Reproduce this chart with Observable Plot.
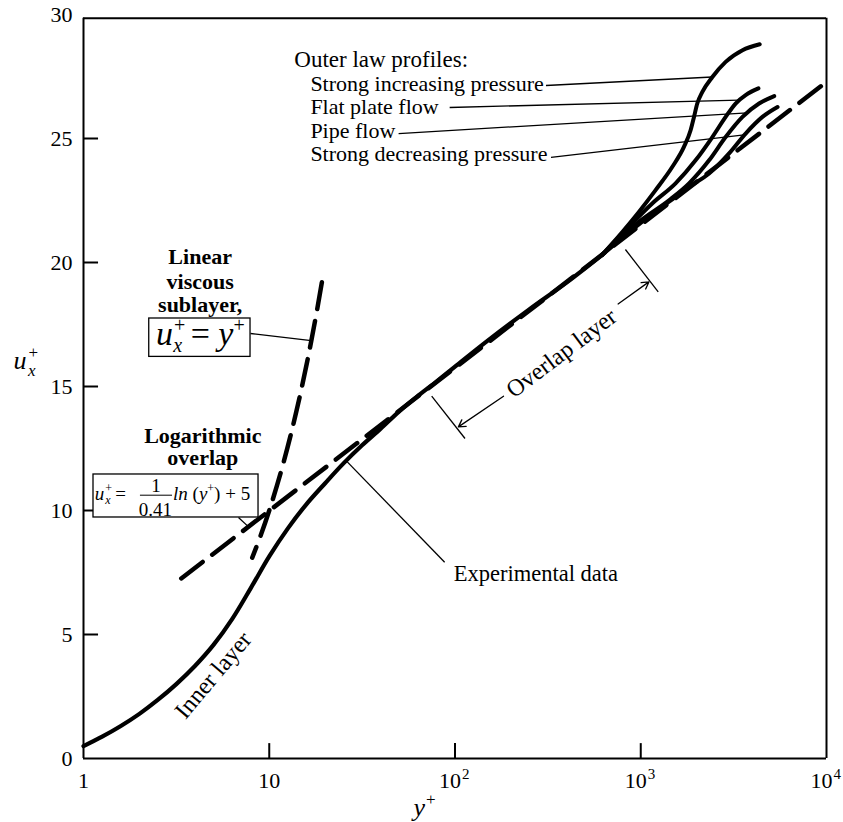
<!DOCTYPE html>
<html><head><meta charset="utf-8">
<script src="https://cdn.jsdelivr.net/npm/d3@7"></script>
<script src="https://cdn.jsdelivr.net/npm/@observablehq/plot@0.6"></script>
<style>
  body { margin: 0; background: #fff; }
  #chart svg { display: block; }
</style>
</head><body><div id="chart"></div>
<script>
// Turbulent wall-layer velocity profile, u+ against y+ (log scale)

// Experimental data (inner layer through overlap layer)
const expY = [1, 1.26, 1.58, 2.0, 2.51, 3.16, 3.98, 5.01, 6.31, 7.94, 10, 12.6, 15.8, 20, 25.1, 31.6, 39.8, 50.1, 63.1, 79.4, 100, 150, 250, 400, 618];
const expU = [0.5, 0.88, 1.3, 1.8, 2.36, 3.0, 3.73, 4.58, 5.62, 6.86, 8.15, 9.28, 10.24, 11.1, 11.9, 12.63, 13.3, 14.0, 14.62, 15.2, 15.8, 16.85, 18.1, 19.2, 20.3];

// Outer law profiles
const profileNames = ["Strong increasing pressure", "Flat plate flow", "Pipe flow", "Strong decreasing pressure"];
const incY = [618, 800, 977, 1202, 1477, 1708, 1855, 1935, 2015, 2146, 2430, 2865, 3530, 4370];
const incU = [20.3, 21.25, 22.04, 22.92, 23.85, 24.66, 25.33, 25.87, 26.41, 26.88, 27.48, 28.09, 28.56, 28.8];
const flatY = [618, 863, 1153, 1540, 1973, 2430, 2865, 3240, 3670, 4300];
const flatU = [20.3, 21.44, 22.38, 23.19, 24.12, 25.06, 25.87, 26.41, 26.75, 27.02];
const pipeY = [618, 1000, 1420, 1820, 2333, 2865, 3530, 4335, 5230];
const pipeU = [20.3, 21.7, 22.51, 23.19, 24.12, 25.06, 25.87, 26.41, 26.71];
const decY = [618, 1000, 1420, 1820, 2333, 2990, 3670, 4520, 5450];
const decU = [20.3, 21.6, 22.45, 23.05, 23.59, 24.4, 25.2, 25.87, 26.27];

// Linear viscous sublayer, u+ = y+
const viscY = [19.2, 18, 17, 16, 15, 14, 13, 12, 11, 10, 9, 8.1];
const viscU = [19.2, 18, 17, 16, 15, 14, 13, 12, 11, 10, 9, 8.1];

// Logarithmic overlap line
const logY = [3.36, 9840];
const logU = [7.26, 27.24];

// Axis ticks
const xTicks = [1, 10, 100, 1000, 10000];
const xTickBase = ["1", "10", "10", "10", "10"];
const xTickExp = ["", "", "2", "3", "4"];
const yTicks = [0, 5, 10, 15, 20, 25, 30];

const pts = (xs, us) => xs.map((x, i) => ({x, u: us[i]}));
const profiles = [pts(incY, incU), pts(flatY, flatU), pts(pipeY, pipeU), pts(decY, decU)];

// Annotation placement, in data units
const profileLabelAt = {x: 16.65, u: [26.927, 25.98, 25.03, 24.085]};
const profileLeaders = [
  {x1: 308.8, y1: 27.137, x2: 2430, y2: 27.48},
  {x1: 93.6, y1: 26.25, x2: 3384, y2: 26.55},
  {x1: 49.7, y1: 25.2, x2: 3752, y2: 26.03},
  {x1: 328.6, y1: 24.238, x2: 3601, y2: 25.15}
];
const otherLeaders = [
  {x1: 7.928, y1: 17.137, x2: 16.85, y2: 16.85},   // viscous formula box
  {x1: 6.83, y1: 9.718, x2: 7.77, y2: 9.33},       // log formula box
  {x1: 26, y1: 12.0, x2: 87.98, y2: 7.915}         // experimental data
];
const overlapBars = [
  {x1: 74.9, y1: 14.609, x2: 113.2, y2: 12.903},
  {x1: 826.8, y1: 20.524, x2: 1241.6, y2: 18.815}
];
const overlapArrows = [
  {x1: 182.5, y1: 14.609, x2: 104.3, y2: 13.371},
  {x1: 755.1, y1: 18.327, x2: 1106, y2: 19.218}
];
const boxes = [
  {x1: 2.259, x2: 7.928, y1: 16.194, y2: 17.742},
  {x1: 1.132, x2: 8.755, y1: 9.718, y2: 11.452}
];
const boldLabels = [
  {t: "Linear", x: 4.246, u: 19.92},
  {t: "viscous", x: 4.246, u: 18.95},
  {t: "sublayer,", x: 4.246, u: 18.01},
  {t: "Logarithmic", x: 4.388, u: 12.734},
  {t: "overlap", x: 4.388, u: 11.847}
];

const serif = "'Liberation Serif', 'Times New Roman', Times, serif";
const innerX = xTicks.slice(1, -1);
const innerY = yTicks.slice(1, -1);
const plainIdx = xTicks.map((d, i) => i).filter(i => !xTickExp[i]);
const expIdx = xTicks.map((d, i) => i).filter(i => xTickExp[i]);

const chart = Plot.plot({
  width: 843,
  height: 822,
  marginLeft: 83,
  marginRight: 17,
  marginTop: 14,
  marginBottom: 64,
  style: {fontFamily: serif, fontSize: "22px", background: "white", color: "black"},
  x: {type: "log", domain: [1, 10000], axis: null},
  y: {domain: [0, 30], axis: null},
  marks: [
    // frame and inward ticks
    Plot.ruleY([0, 29.85], {stroke: "black", strokeWidth: 2}),
    Plot.ruleX([1, 10000], {y1: 0, y2: 29.85, stroke: "black", strokeWidth: 2}),
    Plot.ruleX(innerX, {y1: 0, y2: 0.6, stroke: "black", strokeWidth: 2}),
    Plot.ruleY(innerY, {x1: 1, x2: 1.205, stroke: "black", strokeWidth: 2}),
    Plot.axisY({ticks: yTicks, tickSize: 0, tickPadding: 11, fontSize: 22, label: null, tickFormat: d => String(d)}),
    Plot.text(plainIdx, {x: i => xTicks[i], y: 0, text: i => xTickBase[i], dy: 29, lineAnchor: "bottom", fontSize: 22}),
    Plot.text(expIdx, {x: i => xTicks[i], y: 0, text: i => xTickBase[i], dx: -5, dy: 29, lineAnchor: "bottom", fontSize: 22}),
    Plot.text(expIdx, {x: i => xTicks[i], y: 0, text: i => xTickExp[i], dx: 7, dy: 20, textAnchor: "start", lineAnchor: "bottom", fontSize: 15}),
    // axis titles (rewritten with sub/superscripts below)
    Plot.text(["u_x^+"], {frameAnchor: "left", dx: -70, dy: -18, textAnchor: "start", lineAnchor: "bottom", fontSize: 26}),
    Plot.text(["y^+"], {frameAnchor: "bottom", dx: -41.5, dy: 57, textAnchor: "start", lineAnchor: "bottom", fontSize: 26}),

    // curves
    Plot.line(pts(logY, logU), {x: "x", y: "u", stroke: "black", strokeWidth: 4.5, strokeDasharray: "27,12"}),
    Plot.line(pts(viscY, viscU), {x: "x", y: "u", stroke: "black", strokeWidth: 4.5, strokeDasharray: "27,12", curve: "monotone-x"}),
    ...profiles.map(p => Plot.line(p, {x: "x", y: "u", stroke: "black", strokeWidth: 4, curve: "monotone-x", strokeLinecap: "round"})),
    Plot.line(pts(expY, expU), {x: "x", y: "u", stroke: "black", strokeWidth: 4.2, curve: "catmull-rom", strokeLinecap: "round"}),

    // leaders, arrows, boxes
    Plot.link(profileLeaders, {x1: "x1", y1: "y1", x2: "x2", y2: "y2", stroke: "black", strokeWidth: 1.3}),
    Plot.link(otherLeaders, {x1: "x1", y1: "y1", x2: "x2", y2: "y2", stroke: "black", strokeWidth: 1.3}),
    Plot.link(overlapBars, {x1: "x1", y1: "y1", x2: "x2", y2: "y2", stroke: "black", strokeWidth: 1.3}),
    Plot.arrow(overlapArrows, {x1: "x1", y1: "y1", x2: "x2", y2: "y2", stroke: "black", strokeWidth: 1.3, headLength: 9}),
    Plot.rect(boxes, {x1: "x1", x2: "x2", y1: "y1", y2: "y2", fill: "white", stroke: "black", strokeWidth: 1.3}),

    // labels
    Plot.text(["Outer law profiles:"], {x: 13.64, y: 27.875, textAnchor: "start", lineAnchor: "bottom", fontSize: 23}),
    Plot.text(profileNames, {x: profileLabelAt.x, y: (d, i) => profileLabelAt.u[i], textAnchor: "start", lineAnchor: "bottom", fontSize: 22}),
    Plot.text(boldLabels, {x: "x", y: "u", text: "t", lineAnchor: "bottom", fontSize: 22, fontWeight: "bold"}),
    Plot.text(["Experimental data"], {x: 98.4, y: 7.149, textAnchor: "start", lineAnchor: "bottom", fontSize: 22.5}),
    Plot.text(["Inner layer"], {x: 4.99, y: 3.36, rotate: -50, fontSize: 24}),
    Plot.text(["Overlap layer"], {x: 374.2, y: 16.343, rotate: -37, fontSize: 24}),

    // formulas (rewritten with sub/superscripts below)
    Plot.text(["u_x^+ = y^+"], {x: 2.456, y: 16.665, textAnchor: "start", lineAnchor: "bottom", fontSize: 34}),
    Plot.text(["u_x^+ ="], {x: 1.151, y: 10.415, textAnchor: "start", lineAnchor: "bottom", fontSize: 19}),
    Plot.text(["1"], {x: 2.456, y: 10.738, lineAnchor: "bottom", fontSize: 19}),
    Plot.text(["0.41"], {x: 2.441, y: 9.79, lineAnchor: "bottom", fontSize: 19}),
    Plot.link([{x1: 2.013, x2: 2.996, y: 10.617}], {x1: "x1", x2: "x2", y1: "y", y2: "y", stroke: "black", strokeWidth: 1}),
    Plot.text(["ln (y^+) + 5"], {x: 3.034, y: 10.415, textAnchor: "start", lineAnchor: "bottom", fontSize: 19})
  ]
});

// Rebuild formula texts with italic letters, subscripts and superscripts
const richText = {
  "u_x^+": {base: 26, parts: [
    {t: "u", i: true}, {t: "+", s: 17, dx: 2, dy: -11}, {t: "x", i: true, s: 17, dx: -10, dy: 18}]},
  "y^+": {base: 26, parts: [{t: "y", i: true}, {t: "+", s: 17, dx: 1, dy: -11}]},
  "u_x^+ = y^+": {base: 34, parts: [
    {t: "u", i: true}, {t: "+", s: 20, dx: 1, dy: -13}, {t: "x", i: true, s: 20, dx: -12, dy: 20},
    {t: " = ", dy: -7}, {t: "y", i: true}, {t: "+", s: 20, dy: -13}]},
  "u_x^+ =": {base: 19, parts: [
    {t: "u", i: true}, {t: "+", s: 12, dx: 1, dy: -8}, {t: "x", i: true, s: 12, dx: -7, dy: 12},
    {t: " = ", dy: -4}]},
  "ln (y^+) + 5": {base: 19, parts: [
    {t: "ln", i: true}, {t: " ("}, {t: "y", i: true}, {t: "+", s: 12, dy: -8}, {t: ") + 5", dy: 8}]}
};
const NS = "http://www.w3.org/2000/svg";
for (const el of chart.querySelectorAll("text")) {
  const spec = richText[el.textContent];
  if (!spec) continue;
  el.textContent = "";
  el.setAttribute("style", "white-space: pre");
  for (const p of spec.parts) {
    const ts = document.createElementNS(NS, "tspan");
    ts.textContent = p.t;
    ts.setAttribute("font-size", p.s || spec.base);
    ts.setAttribute("font-style", p.i ? "italic" : "normal");
    if (p.dx) ts.setAttribute("dx", p.dx);
    if (p.dy) ts.setAttribute("dy", p.dy);
    el.appendChild(ts);
  }
}

document.getElementById("chart").appendChild(chart);
</script>
</body></html>
